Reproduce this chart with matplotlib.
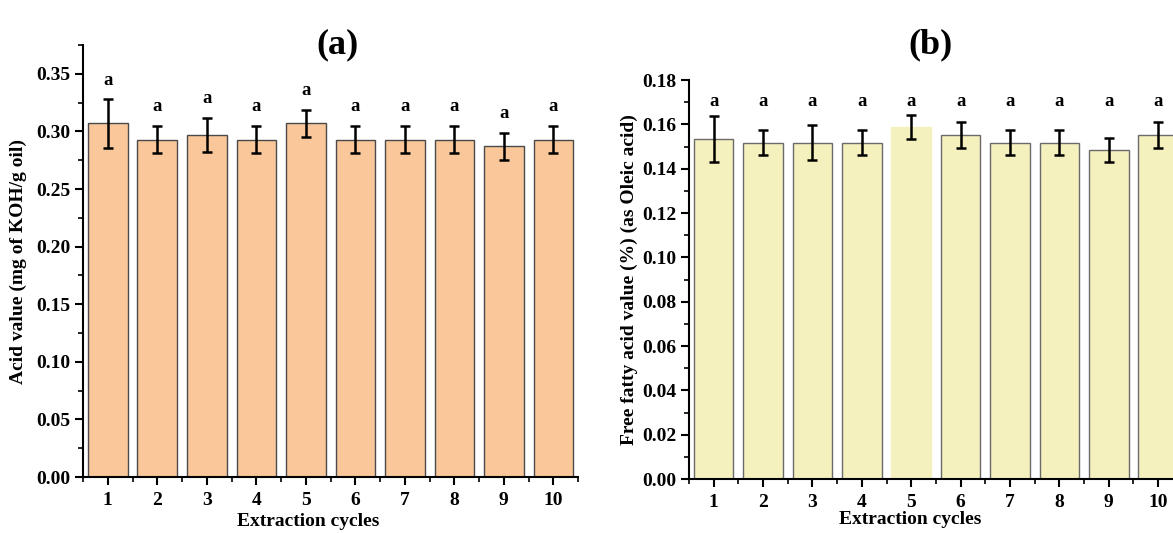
import numpy as np
import matplotlib
matplotlib.use("Agg")
import matplotlib.pyplot as plt
from matplotlib.ticker import MultipleLocator

plt.rcParams['font.family'] = ['Liberation Serif', 'DejaVu Serif']
plt.rcParams['font.weight'] = 'bold'

# данные
cycles = np.arange(1, 11)
acid_value = [0.307, 0.293, 0.297, 0.293, 0.307, 0.293, 0.293, 0.293, 0.287, 0.293]
acid_err = [0.021, 0.012, 0.015, 0.012, 0.012, 0.012, 0.012, 0.012, 0.012, 0.012]
ffa_value = [0.1534, 0.1518, 0.1518, 0.1518, 0.1588, 0.1550, 0.1518, 0.1518, 0.1484, 0.1550]
ffa_err = [0.0105, 0.0058, 0.0077, 0.0058, 0.0055, 0.0059, 0.0058, 0.0058, 0.0056, 0.0059]
letters_a = ['a'] * 10
letters_b = ['a'] * 10

fig = plt.figure(figsize=(11.73, 5.33), dpi=100)
ax1 = fig.add_axes([0.0708, 0.105, 0.422, 0.8105])
ax2 = fig.add_axes([0.5874, 0.1013, 0.421, 0.7486])


def style_axis(ax, ymax, ymajor, yfmt):
    ax.set_xlim(0.5, 10.5)
    ax.set_ylim(0, ymax)
    ax.set_xticks(cycles)
    ax.set_xticks(np.arange(0.5, 11, 1), minor=True)
    ax.yaxis.set_major_locator(MultipleLocator(ymajor))
    ax.yaxis.set_minor_locator(MultipleLocator(ymajor / 2))
    ax.yaxis.set_major_formatter(plt.FormatStrFormatter(yfmt))
    for s in ['top', 'right']:
        ax.spines[s].set_visible(False)
    for s in ['left', 'bottom']:
        ax.spines[s].set_linewidth(1.5)
    ax.tick_params(which='major', direction='out', length=6, width=1.5, labelsize=14)
    ax.tick_params(which='minor', direction='out', length=3.5, width=1.2)
    ax.tick_params(axis='x', which='major', pad=5)
    ax.tick_params(axis='y', which='major', pad=3)
    for lab in ax.get_xticklabels() + ax.get_yticklabels():
        lab.set_fontweight('bold')


ekw = dict(ecolor='black', elinewidth=1.8, capsize=3.7, capthick=1.8)

# (a)
ax1.bar(cycles, acid_value, width=0.8, color='#f9c79a', edgecolor='#4a4a4a', linewidth=1.0,
        yerr=acid_err, error_kw=ekw)
for x, v, e, t in zip(cycles, acid_value, acid_err, letters_a):
    ax1.text(x, v + e + 0.0165, t, ha='center', va='center', fontsize=13.5, fontweight='bold')
style_axis(ax1, 0.375, 0.05, '%.2f')
ax1.set_ylabel('Acid value (mg of KOH/g oil)', fontsize=14, fontweight='bold')
ax1.set_xlabel('Extraction cycles', fontsize=14, fontweight='bold')
ax1.yaxis.set_label_coords(-0.113, 0.5)
ax1.xaxis.set_label_coords(0.455, -0.083)

# (b)
edge_b = ['#6a6a6a'] * 10
edge_b[4] = '#f5f1be'
ax2.bar(cycles, ffa_value, width=0.8, color='#f5f1be', edgecolor=edge_b, linewidth=1.0,
        yerr=ffa_err, error_kw=ekw)
for x, t in zip(cycles, letters_b):
    ax2.text(x, 0.1705, t, ha='center', va='center', fontsize=13.5, fontweight='bold')
style_axis(ax2, 0.18, 0.02, '%.2f')
ax2.set_ylabel('Free fatty acid value (%) (as Oleic acid)', fontsize=14, fontweight='bold')
ax2.set_xlabel('Extraction cycles', fontsize=14, fontweight='bold')
ax2.yaxis.set_label_coords(-0.103, 0.5)
ax2.xaxis.set_label_coords(0.447, -0.080)

fig.text(338 / 1173, 1 - 45 / 533, '(a)', ha='center', va='center', fontsize=26, fontweight='bold')
fig.text(930 / 1173, 1 - 45 / 533, '(b)', ha='center', va='center', fontsize=26, fontweight='bold')

fig.savefig('out.png', dpi=100)
